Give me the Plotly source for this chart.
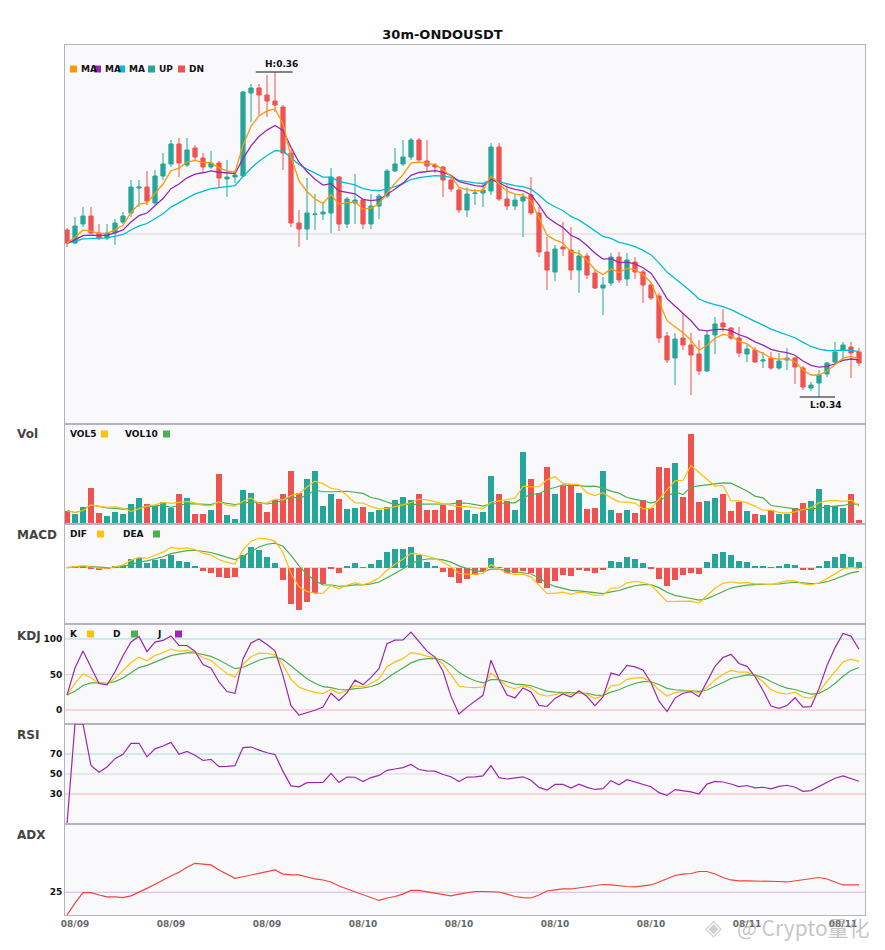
import numpy as np
import pandas as pd
import plotly.graph_objects as go
from plotly.subplots import make_subplots

# ---------------- data ----------------
title = "30m-ONDOUSDT"

opens = [0.35024, 0.34946, 0.35060, 0.35108, 0.35006, 0.34976, 0.35006, 0.35072, 0.35126, 0.35276,
         0.35282, 0.35186, 0.35348, 0.35420, 0.35540, 0.35414, 0.35516, 0.35456, 0.35402, 0.35426,
         0.35330, 0.35342, 0.35348, 0.35846, 0.35876, 0.35834, 0.35798, 0.35762, 0.35486, 0.35066,
         0.35030, 0.35117, 0.35120, 0.35126, 0.35342, 0.35060, 0.35186, 0.35204, 0.35060, 0.35168,
         0.35228, 0.35378, 0.35420, 0.35462, 0.35564, 0.35438, 0.35414, 0.35402, 0.35324, 0.35264,
         0.35144, 0.35243, 0.35246, 0.35258, 0.35522, 0.35210, 0.35168, 0.35198, 0.35234, 0.35126,
         0.34892, 0.34772, 0.34922, 0.34904, 0.34784, 0.34868, 0.34766, 0.34676, 0.34706, 0.34862,
         0.34730, 0.34832, 0.34772, 0.34694, 0.34628, 0.34388, 0.34256, 0.34376, 0.34334, 0.34280,
         0.34178, 0.34394, 0.34466, 0.34436, 0.34376, 0.34280, 0.34304, 0.34238, 0.34256, 0.34196,
         0.34244, 0.34256, 0.34196, 0.34076, 0.34106, 0.34160, 0.34232, 0.34304, 0.34322, 0.34292]

highs = [0.35036, 0.35102, 0.35162, 0.35162, 0.35060, 0.35060, 0.35090, 0.35132, 0.35324, 0.35324,
         0.35378, 0.35384, 0.35486, 0.35564, 0.35576, 0.35576, 0.35534, 0.35486, 0.35498, 0.35438,
         0.35444, 0.35384, 0.35858, 0.35900, 0.35900, 0.35954, 0.35972, 0.35774, 0.35504, 0.35144,
         0.35336, 0.35240, 0.35192, 0.35396, 0.35348, 0.35222, 0.35360, 0.35210, 0.35240, 0.35240,
         0.35390, 0.35516, 0.35564, 0.35576, 0.35576, 0.35564, 0.35426, 0.35408, 0.35336, 0.35276,
         0.35282, 0.35270, 0.35306, 0.35546, 0.35546, 0.35306, 0.35234, 0.35246, 0.35342, 0.35162,
         0.34982, 0.34934, 0.35072, 0.35042, 0.34904, 0.34886, 0.34784, 0.34742, 0.34886, 0.34892,
         0.34886, 0.34862, 0.34784, 0.34706, 0.34646, 0.34412, 0.34406, 0.34526, 0.34406, 0.34364,
         0.34424, 0.34502, 0.34550, 0.34442, 0.34442, 0.34334, 0.34322, 0.34292, 0.34292, 0.34286,
         0.34316, 0.34262, 0.34208, 0.34112, 0.34184, 0.34232, 0.34352, 0.34352, 0.34352, 0.34316]

lows = [0.34922, 0.34940, 0.35042, 0.35000, 0.34964, 0.34964, 0.34934, 0.35060, 0.35102, 0.35162,
        0.35174, 0.35174, 0.35324, 0.35402, 0.35342, 0.35402, 0.35444, 0.35366, 0.35390, 0.35282,
        0.35222, 0.35306, 0.35342, 0.35672, 0.35714, 0.35702, 0.35732, 0.35384, 0.35042, 0.34922,
        0.34964, 0.35024, 0.35084, 0.35006, 0.35018, 0.35036, 0.35060, 0.35030, 0.35030, 0.35090,
        0.35216, 0.35372, 0.35408, 0.35444, 0.35438, 0.35372, 0.35366, 0.35222, 0.35252, 0.35126,
        0.35102, 0.35174, 0.35162, 0.35234, 0.35198, 0.35144, 0.35144, 0.34982, 0.35114, 0.34862,
        0.34664, 0.34718, 0.34868, 0.34724, 0.34646, 0.34730, 0.34670, 0.34514, 0.34688, 0.34706,
        0.34688, 0.34730, 0.34586, 0.34604, 0.34346, 0.34226, 0.34094, 0.34304, 0.34034, 0.34154,
        0.34172, 0.34280, 0.34412, 0.34364, 0.34262, 0.34232, 0.34226, 0.34196, 0.34184, 0.34184,
        0.34184, 0.34100, 0.34064, 0.34058, 0.34022, 0.34142, 0.34214, 0.34244, 0.34136, 0.34208]

closes = [0.34946, 0.35048, 0.35108, 0.35006, 0.34976, 0.35006, 0.35066, 0.35108, 0.35282, 0.35282,
          0.35198, 0.35348, 0.35420, 0.35540, 0.35426, 0.35504, 0.35462, 0.35402, 0.35426, 0.35336,
          0.35342, 0.35354, 0.35852, 0.35876, 0.35834, 0.35798, 0.35774, 0.35486, 0.35066, 0.35030,
          0.35126, 0.35120, 0.35132, 0.35342, 0.35060, 0.35210, 0.35204, 0.35060, 0.35168, 0.35228,
          0.35378, 0.35420, 0.35462, 0.35564, 0.35444, 0.35408, 0.35402, 0.35324, 0.35270, 0.35144,
          0.35240, 0.35246, 0.35264, 0.35522, 0.35210, 0.35168, 0.35204, 0.35222, 0.35126, 0.34892,
          0.34784, 0.34910, 0.34910, 0.34784, 0.34868, 0.34754, 0.34676, 0.34694, 0.34862, 0.34724,
          0.34844, 0.34772, 0.34694, 0.34616, 0.34376, 0.34244, 0.34370, 0.34334, 0.34274, 0.34178,
          0.34394, 0.34460, 0.34442, 0.34376, 0.34286, 0.34310, 0.34232, 0.34244, 0.34196, 0.34238,
          0.34256, 0.34202, 0.34082, 0.34094, 0.34154, 0.34226, 0.34292, 0.34334, 0.34286, 0.34226]

# volume in thousands
volumes = [40, 29, 52, 109, 34, 25, 37, 31, 61, 79, 61, 55, 67, 48, 91, 79, 31, 31, 43, 151,
           28, 16, 103, 94, 67, 37, 73, 91, 160, 94, 136, 160, 55, 91, 76, 46, 49, 52, 37, 43,
           52, 73, 82, 73, 91, 43, 43, 58, 43, 73, 43, 31, 37, 145, 91, 70, 43, 217, 136, 94,
           172, 91, 115, 121, 94, 46, 49, 160, 43, 34, 43, 34, 73, 49, 172, 169, 184, 82, 271, 67,
           70, 79, 91, 40, 67, 40, 31, 28, 43, 31, 31, 49, 64, 70, 106, 58, 55, 49, 91, 13]

adx_values = [0, 13, 24.5, 24.5, 22, 20, 20, 19, 21, 25.6, 29.3, 33.7, 38.5, 42.9, 47, 52.4, 56.8, 56, 55, 49.5,
              45, 40.3, 42, 44, 45.8, 47.6, 49.5, 45, 44, 44,
              41.8, 39.6, 38.5, 36.3, 31.9, 28.6, 25.3, 22, 18.7, 16, 18.7, 20.3, 23, 27, 27, 25.3, 23.6, 22, 21, 23,
              24, 25.8, 25.8, 25.3, 25.3, 23, 20.3, 19.2, 18.7, 22,
              26.4, 27.5, 28.6, 28.6, 29.7, 30.8, 31.9, 33.5, 33, 31.9, 31.3, 30.8, 31.9, 33, 36.3, 39.6, 43.4, 45, 45.6, 47.8,
              47.8, 45, 41.2, 38.5, 37.4, 37.4, 37.4, 37.4, 37.4, 36.8,
              36.3, 37.4, 39, 40.1, 41.2, 39.6, 36.3, 33, 33, 33]

tick_index = [1, 13, 25, 37, 49, 61, 73, 85, 97]
tick_labels = ["08/09", "08/09", "08/09", "08/10", "08/10", "08/10", "08/10", "08/11", "08/11"]

panel_names = ["Vol", "MACD", "KDJ", "RSI", "ADX"]

# ---------------- indicators derived from the data ----------------
df = pd.DataFrame({"open": opens, "high": highs, "low": lows, "close": closes, "volume": volumes})
n = len(df)
x = np.arange(n)
c = df["close"]
ema5 = c.ewm(span=5, adjust=False).mean()
ema10 = c.ewm(span=10, adjust=False).mean()
ema20 = c.ewm(span=20, adjust=False).mean()

vol5 = df["volume"].rolling(5, min_periods=1).mean()
vol10 = df["volume"].rolling(10, min_periods=1).mean()

dif = c.ewm(span=6).mean() - c.ewm(span=13).mean()
dea = dif.ewm(span=5).mean()
hist = 2 * (dif - dea)

low9 = df["low"].rolling(9, min_periods=1).min()
high9 = df["high"].rolling(9, min_periods=1).max()
rsv = (c - low9) / (high9 - low9) * 100
kk = rsv.ewm(com=2, adjust=False).mean()
dd = kk.ewm(com=2, adjust=False).mean()
jj = 3 * kk - 2 * dd

delta = c.diff().fillna(0)
gain = delta.clip(lower=0).ewm(alpha=1 / 14, adjust=True).mean()
loss = (-delta.clip(upper=0)).ewm(alpha=1 / 14, adjust=True).mean()
tot = gain + loss
rsi = pd.Series(np.where(tot > 0, 100 * gain / tot.replace(0, np.nan), 0)).fillna(0)

up = df["close"] >= df["open"]
UPC, DNC = "#26a69a", "#ef5350"
bar_colors = [UPC if u else DNC for u in up]
hist_colors = [UPC if v >= 0 else DNC for v in hist]

# ---------------- figure ----------------
# the page adds an 8px body margin, so the figure is 8px smaller than the window
PAGE_OFF = 8
W, H = 885 - PAGE_OFF, 950 - PAGE_OFF
ML, MR, MT, MB = 65 - PAGE_OFF, 20, 45 - PAGE_OFF, 35
# plot area in window pixels: x 65..865, y 45..915
AX0, AX1, AY0, AY1 = 65, 865, 45, 915


def px(xp):
    return (xp - AX0) / (AX1 - AX0)


def py(yp):
    return (AY1 - yp) / (AY1 - AY0)


fig = make_subplots(rows=6, cols=1, shared_xaxes=True, vertical_spacing=0,
                    row_heights=[379, 100, 100, 100, 100, 91])

fig.add_trace(go.Candlestick(x=x, open=df["open"], high=df["high"], low=df["low"], close=df["close"],
                             increasing=dict(line=dict(color=UPC, width=1), fillcolor=UPC),
                             decreasing=dict(line=dict(color=DNC, width=1), fillcolor=DNC),
                             whiskerwidth=0, hoverinfo="skip"), row=1, col=1)
for s, col in [(ema20, "#00bcd4"), (ema10, "#9c27b0"), (ema5, "#ff9800")]:
    fig.add_trace(go.Scatter(x=x, y=s, mode="lines", line=dict(color=col, width=1.3)), row=1, col=1)

fig.add_trace(go.Bar(x=x, y=df["volume"], marker=dict(color=bar_colors, line=dict(width=0)), width=0.75), row=2, col=1)
fig.add_trace(go.Scatter(x=x, y=vol10, mode="lines", line=dict(color="#4caf50", width=1.2)), row=2, col=1)
fig.add_trace(go.Scatter(x=x, y=vol5, mode="lines", line=dict(color="#ffc107", width=1.2)), row=2, col=1)

fig.add_trace(go.Bar(x=x, y=hist, marker=dict(color=hist_colors, line=dict(width=0)), width=0.75), row=3, col=1)
fig.add_trace(go.Scatter(x=x, y=dea, mode="lines", line=dict(color="#4caf50", width=1.2)), row=3, col=1)
fig.add_trace(go.Scatter(x=x, y=dif, mode="lines", line=dict(color="#ffc107", width=1.2)), row=3, col=1)

fig.add_trace(go.Scatter(x=x, y=dd, mode="lines", line=dict(color="#4caf50", width=1.2)), row=4, col=1)
fig.add_trace(go.Scatter(x=x, y=kk, mode="lines", line=dict(color="#ffc107", width=1.2)), row=4, col=1)
fig.add_trace(go.Scatter(x=x, y=jj, mode="lines", line=dict(color="#9c27b0", width=1.2)), row=4, col=1)

fig.add_trace(go.Scatter(x=x, y=rsi, mode="lines", line=dict(color="#9c27b0", width=1.2)), row=5, col=1)
fig.add_trace(go.Scatter(x=x, y=adx_values, mode="lines", line=dict(color="#f44336", width=1.2)), row=6, col=1)

# reference lines
GRAY, TEAL_L, PINK_L, PURP_L = "#d6d6dc", "#a8dcd4", "#f6b4b4", "#dcb0e6"
fig.add_hline(y=0.35, line=dict(color=GRAY, width=1), layer="below", row=1, col=1)
fig.add_hline(y=0, line=dict(color=GRAY, width=1), layer="below", row=3, col=1)
for yv, colr in [(100, TEAL_L), (50, GRAY), (0, PINK_L)]:
    fig.add_hline(y=yv, line=dict(color=colr, width=1), layer="below", row=4, col=1)
for yv, colr in [(70, TEAL_L), (50, GRAY), (30, PINK_L)]:
    fig.add_hline(y=yv, line=dict(color=colr, width=1), layer="below", row=5, col=1)
fig.add_hline(y=25, line=dict(color=PURP_L, width=1), layer="below", row=6, col=1)

# axes
BORDER = "#b4b4bc"
TICKF = dict(family="DejaVu Sans", size=9, color="#111", weight="bold")
for r in range(1, 7):
    fig.update_xaxes(range=[-0.25, n - 0.25], showgrid=False, zeroline=False, showline=True, mirror=True,
                     linecolor=BORDER, linewidth=1, ticks="", rangeslider=dict(visible=False), row=r, col=1)
fig.update_xaxes(tickvals=tick_index, ticktext=tick_labels, showticklabels=True,
                 tickfont=dict(family="DejaVu Sans", size=9, color="#666", weight="bold"), row=6, col=1)

macd_all = pd.concat([dif, dea, hist])
mlo, mhi = macd_all.min(), macd_all.max()
mspan = mhi - mlo
yax = [
    dict(range=[0.33860, 0.36134], tickvals=[], showticklabels=False),
    dict(range=[0, 300], tickvals=[], showticklabels=False),
    dict(range=[mlo - 0.2 * mspan, mhi + 0.2 * mspan], tickvals=[], showticklabels=False),
    dict(range=[-19.7, 121.1], tickvals=[0, 50, 100]),
    dict(range=[0, 100], tickvals=[30, 50, 70]),
    dict(range=[0, 100], tickvals=[25]),
]
for r, a in enumerate(yax, start=1):
    fig.update_yaxes(showgrid=False, zeroline=False, showline=True, mirror=True, linecolor=BORDER,
                     linewidth=1, ticks="", tickfont=TICKF, fixedrange=True, row=r, col=1, **a)

# high / low markers
imax = int(np.argmax(highs))
imin = int(np.argmin(lows))
hmax, lmin = highs[imax], lows[imin]
fig.add_shape(type="line", xref="x", yref="y", x0=imax - 2.4, x1=imax + 2.2, y0=hmax, y1=hmax,
              line=dict(color="#111", width=1.2))
fig.add_annotation(xref="x", yref="y", x=imax + 0.8, y=hmax, yshift=1, text=f"H:{hmax:.2f}", showarrow=False,
                   yanchor="bottom", font=dict(family="DejaVu Sans", size=9, color="#111", weight="bold"))
fig.add_shape(type="line", xref="x", yref="y", x0=imin - 2.4, x1=imin + 2.0, y0=lmin, y1=lmin,
              line=dict(color="#111", width=1.2))
fig.add_annotation(xref="x", yref="y", x=imin + 0.9, y=lmin, yshift=-1, text=f"L:{lmin:.2f}", showarrow=False,
                   yanchor="top", font=dict(family="DejaVu Sans", size=9, color="#111", weight="bold"))

# custom legends (square + bold label)
LEGF = dict(family="DejaVu Sans", size=9, color="#111", weight="bold")


def square(xp, yp, color, s=7):
    fig.add_shape(type="rect", xref="paper", yref="paper", x0=px(xp), x1=px(xp + s),
                  y0=py(yp + s / 2), y1=py(yp - s / 2), line=dict(width=0), fillcolor=color)


def label(xp, yp, text, font=LEGF):
    fig.add_annotation(xref="paper", yref="paper", x=px(xp), y=py(yp), text=text, showarrow=False,
                       xanchor="left", yanchor="middle", font=font)


main_leg = [("MA", "#ff9800", 70), ("MA", "#9c27b0", 94), ("MA", "#00bcd4", 118),
            ("UP", UPC, 148), ("DN", DNC, 178)]
for t, colr, sx in main_leg:
    label(sx + 9, 69, t)
    square(sx, 69, colr)

for t, colr, tx, sx, yy in [("VOL5", "#ffc107", 68, 101, 434), ("VOL10", "#4caf50", 123, 163, 434),
                            ("DIF", "#ffc107", 68, 97, 534), ("DEA", "#4caf50", 121, 153, 534),
                            ("K", "#ffc107", 68, 87, 634), ("D", "#4caf50", 111, 131, 634),
                            ("J", "#9c27b0", 155, 175, 634)]:
    label(tx, yy, t)
    square(sx, yy, colr)

PANF = dict(family="DejaVu Sans", size=12, color="#444", weight="bold")
for name, yy in zip(panel_names, [434, 535, 636, 735, 835]):
    fig.add_annotation(xref="paper", yref="paper", x=px(15), y=py(yy), text=name, showarrow=False,
                       xanchor="left", yanchor="middle", font=PANF)

# watermark
fig.add_annotation(xref="paper", yref="paper", x=px(703), y=py(927), text="◈", showarrow=False,
                   xanchor="left", yanchor="middle",
                   font=dict(family="DejaVu Sans", size=22, color="rgba(150,150,150,0.45)"))
fig.add_annotation(xref="paper", yref="paper", x=px(735), y=py(927), text="@ Crypto量化", showarrow=False,
                   xanchor="left", yanchor="middle",
                   font=dict(family="Noto Sans CJK SC", size=21, color="rgba(140,140,140,0.5)"))

fig.update_layout(
    width=W, height=H, margin=dict(l=ML, r=MR, t=MT, b=MB),
    paper_bgcolor="white", plot_bgcolor="#f9f9fc", showlegend=False, bargap=0, boxgap=0.25,
    title=dict(text=title, x=(442.5 - PAGE_OFF) / W, xref="container", xanchor="center",
               y=1 - (34 - PAGE_OFF) / H, yref="container",
               yanchor="middle", font=dict(family="DejaVu Sans", size=13, color="#111", weight="bold")),
    font=dict(family="DejaVu Sans"),
)

fig.write_html("out.html")
